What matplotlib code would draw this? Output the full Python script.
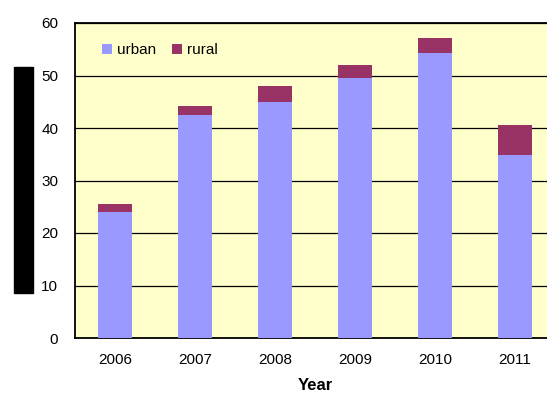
import matplotlib
matplotlib.use("Agg")
import matplotlib.pyplot as plt
from matplotlib.patches import Rectangle

years = ["2006", "2007", "2008", "2009", "2010", "2011"]
urban = [24.0, 42.5, 45.0, 49.5, 54.3, 34.9]
rural = [1.5, 1.7, 3.0, 2.5, 2.8, 5.7]
yticks = [0, 10, 20, 30, 40, 50, 60]

plt.rcParams['font.family'] = ['Liberation Sans', 'DejaVu Sans']

W, H = 547, 394
fig = plt.figure(figsize=(W / 100, H / 100), dpi=100)
left, right, top, bottom = 75, 555, 23, 338
aw, ah = right - left, bottom - top
ax = fig.add_axes([left / W, 1 - bottom / H, aw / W, ah / H])
ax.set_facecolor('#FFFFCC')

x = list(range(len(years)))
bw = 34 / 80
ax.bar(x, urban, width=bw, color='#9999FF', label='urban', zorder=3)
ax.bar(x, rural, width=bw, bottom=urban, color='#993366', label='rural', zorder=3)

ax.set_xlim(-0.5, len(years) - 0.5)
ax.set_ylim(0, 60)
ax.set_yticks(yticks)
ax.set_yticklabels([str(v) for v in yticks], fontsize=11)
ax.set_xticks(x)
ax.set_xticklabels(years, fontsize=11)
ax.tick_params(axis='x', length=0, pad=11)
ax.tick_params(axis='y', length=0, pad=12)
ax.yaxis.grid(True, color='black', linewidth=0.9, zorder=1)
ax.set_axisbelow(True)
for s in ax.spines.values():
    s.set_color('black')
    s.set_linewidth(1.3)

fig.text(315 / W, 1 - 378 / H, 'Year', fontsize=12, fontweight='bold',
         ha='center', va='top')

leg = ax.legend(loc='upper left', bbox_to_anchor=(27 / aw, (bottom - 43) / ah), ncol=2,
                frameon=False, borderpad=0, borderaxespad=0,
                fontsize=11, handlelength=0.65, handleheight=0.65, handletextpad=0.35,
                columnspacing=1.0)

fig.patches.append(Rectangle((14 / W, 1 - 293 / H), 19 / W, 226 / H,
                             transform=fig.transFigure, color='black', zorder=5))

fig.savefig('out.png', dpi=100)
